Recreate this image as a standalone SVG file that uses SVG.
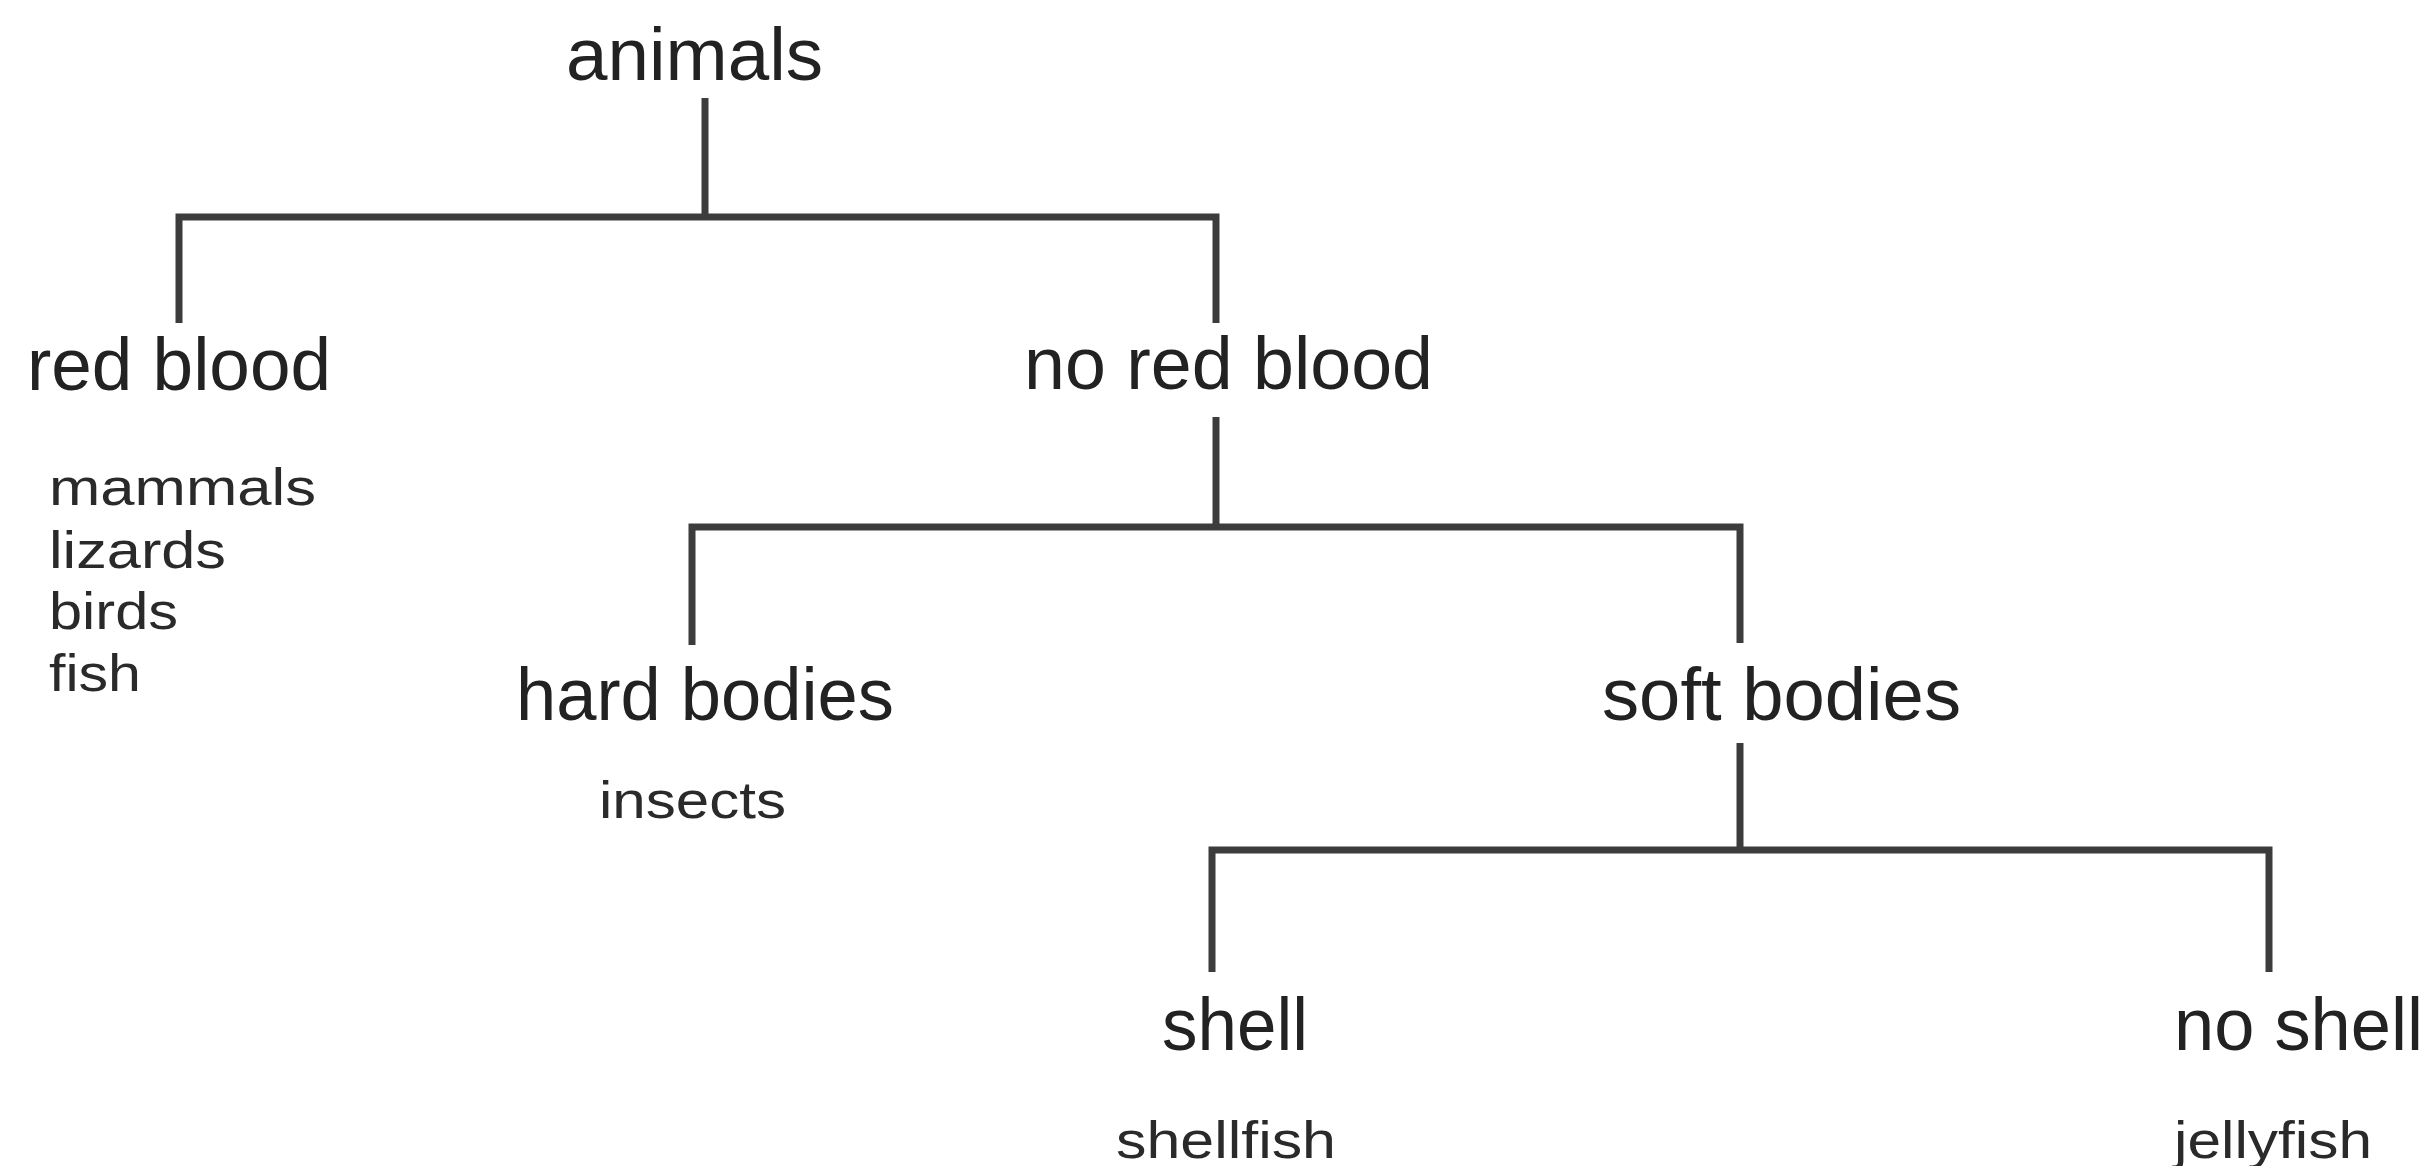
<svg xmlns="http://www.w3.org/2000/svg" width="2432" height="1166" viewBox="0 0 2432 1166">
<style>
.big{font-family:"Liberation Sans",Arial,sans-serif;font-size:74px;fill:#222}
.small{font-family:"Liberation Sans",Arial,sans-serif;font-size:52px;fill:#2a2a2a}
.ln{stroke:#3c3c3c;stroke-width:7;fill:none;stroke-linecap:butt;stroke-linejoin:miter}
</style>
<rect width="2432" height="1166" fill="#ffffff"/>
<g id="connectors">
<path class="ln" d="M705 98V217"/>
<path class="ln" d="M179 323V217H1216V323"/>
<path class="ln" d="M1216 417V527"/>
<path class="ln" d="M692 645V527H1740V643"/>
<path class="ln" d="M1740 743V850"/>
<path class="ln" d="M1212 972V850H2269V972"/>
</g>
<g id="node-animals"><text class="big" x="566" y="80" textLength="257" lengthAdjust="spacingAndGlyphs">animals</text></g>
<g id="node-red-blood">
<text class="big" x="27" y="390" textLength="304" lengthAdjust="spacingAndGlyphs">red blood</text>
<text class="small" x="49" y="505" textLength="267" lengthAdjust="spacingAndGlyphs">mammals</text>
<text class="small" x="49" y="568" textLength="177" lengthAdjust="spacingAndGlyphs">lizards</text>
<text class="small" x="49" y="629" textLength="129" lengthAdjust="spacingAndGlyphs">birds</text>
<text class="small" x="49" y="691" textLength="92" lengthAdjust="spacingAndGlyphs">fish</text>
</g>
<g id="node-no-red-blood"><text class="big" x="1024" y="389" textLength="409" lengthAdjust="spacingAndGlyphs">no red blood</text></g>
<g id="node-hard-bodies">
<text class="big" x="516" y="720" textLength="378" lengthAdjust="spacingAndGlyphs">hard bodies</text>
<text class="small" x="599" y="818" textLength="187" lengthAdjust="spacingAndGlyphs">insects</text>
</g>
<g id="node-soft-bodies"><text class="big" x="1602" y="720" textLength="359" lengthAdjust="spacingAndGlyphs">soft bodies</text></g>
<g id="node-shell">
<text class="big" x="1162" y="1050" textLength="146" lengthAdjust="spacingAndGlyphs">shell</text>
<text class="small" x="1116" y="1158" textLength="220" lengthAdjust="spacingAndGlyphs">shellfish</text>
</g>
<g id="node-no-shell">
<text class="big" x="2174" y="1050" textLength="249" lengthAdjust="spacingAndGlyphs">no shell</text>
<text class="small" x="2174" y="1158" textLength="198" lengthAdjust="spacingAndGlyphs">jellyfish</text>
</g>
</svg>
